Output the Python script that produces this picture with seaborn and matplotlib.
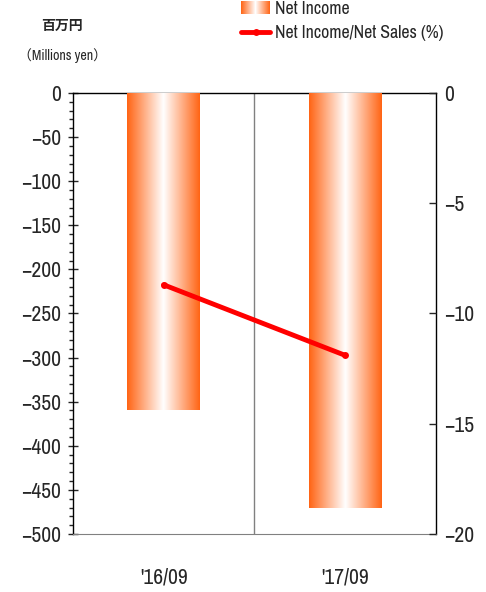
import numpy as np
import pandas as pd
import matplotlib
matplotlib.use("Agg")
import matplotlib.pyplot as plt
import seaborn as sns
from matplotlib import font_manager as fm
from matplotlib.colors import LinearSegmentedColormap
from matplotlib.legend_handler import HandlerBase
from matplotlib.image import BboxImage
from matplotlib.transforms import Bbox, TransformedBbox
from matplotlib.lines import Line2D
from matplotlib.patches import Rectangle
from matplotlib.ticker import MultipleLocator

# data
periods = ["'16/09", "'17/09"]
net_income = [-360, -471]
income_ratio = [-8.7, -11.9]

sns.set_style("white")

# pick a narrow latin face if one is around
installed = {f.name for f in fm.fontManager.ttflist}
narrow = [n for n in installed if "Narrow" in n or "Condensed" in n]
plt.rcParams['font.family'] = sorted(narrow)[:1] + ['DejaVu Sans', 'Noto Sans CJK JP']
plt.rcParams['font.stretch'] = 'condensed'

orange = "#ff6414"
grad_cmap = LinearSegmentedColormap.from_list("grad", [orange, "white", orange])
grad = np.linspace(0, 1, 256).reshape(1, -1)


class GradientHandler(HandlerBase):
    def create_artists(self, legend, orig_handle, xdescent, ydescent, width, height, fontsize, trans):
        bb = Bbox.from_bounds(-xdescent, -ydescent, width, height)
        img = BboxImage(TransformedBbox(bb, trans), cmap=grad_cmap, interpolation='bilinear')
        img.set_data(grad)
        return [img]


df = pd.DataFrame({"period": periods, "income": net_income, "ratio": income_ratio})

fig = plt.figure(figsize=(4.86, 5.92), dpi=100)
ax = fig.add_axes([0.150, 0.098, 0.747, 0.745])

sns.barplot(data=df, x="period", y="income", width=0.4, color=orange, ax=ax, zorder=2)

# gradient fill clipped to each bar
for bar in ax.patches:
    x0, y0 = bar.get_x(), bar.get_y()
    w, h = bar.get_width(), bar.get_height()
    im = ax.imshow(grad, cmap=grad_cmap, aspect='auto', interpolation='bilinear',
                   extent=[x0, x0 + w, y0, y0 + h], zorder=3)
    im.set_clip_path(bar)
    bar.set_alpha(0)

ax.set_xlim(-0.5, 1.5)
ax.set_ylim(-500, 0)
ax.axvline(0.5, color="#808080", lw=1, zorder=1)

ax.yaxis.set_major_locator(MultipleLocator(50))
ax.yaxis.set_minor_locator(MultipleLocator(10))
ax.tick_params(axis='y', which='major', direction='inout', length=7, width=1, labelsize=15.5, pad=5, left=True)
ax.tick_params(axis='y', which='minor', direction='out', length=3, width=1, left=True)
ax.tick_params(axis='x', length=0, labelsize=15.5, pad=24)
ax.set_xlabel("")
ax.set_ylabel("")

for s in ["left", "top", "right"]:
    ax.spines[s].set_color("black")
    ax.spines[s].set_linewidth(1)
ax.spines["bottom"].set_color("#808080")

ax2 = ax.twinx()
sns.lineplot(data=df, x="period", y="ratio", color="#ff0000", lw=3.5, marker="o",
             markersize=5, markeredgewidth=0, ax=ax2, zorder=4)
ax2.set_ylim(-20, 0)
ax2.yaxis.set_major_locator(MultipleLocator(5))
ax2.tick_params(axis='y', direction='in', length=5, width=1, labelsize=15.5, pad=6, right=True)
ax2.set_ylabel("")
ax2.set_xlim(-0.5, 1.5)
for s in ax2.spines.values():
    s.set_visible(False)

fig.text(0.127, 0.957, "百万円", ha='center', va='center', fontsize=10, fontweight='bold')
fig.text(0.128, 0.907, "（Millions yen）", ha='center', va='center', fontsize=10)

bar_handle = Rectangle((0, 0), 1, 1)
line_handle = Line2D([], [], color="#ff0000", lw=3.5, marker="o", markersize=5, markeredgewidth=0)
fig.legend([bar_handle, line_handle], ["Net Income", "Net Income/Net Sales (%)"],
           loc='upper left', bbox_to_anchor=(0.495, 1.0), frameon=False, fontsize=12.8,
           handler_map={Rectangle: GradientHandler()}, handlelength=1.6, handletextpad=0.3,
           labelspacing=0.45, borderaxespad=0, borderpad=0.05)

fig.savefig("out.png", dpi=100)
